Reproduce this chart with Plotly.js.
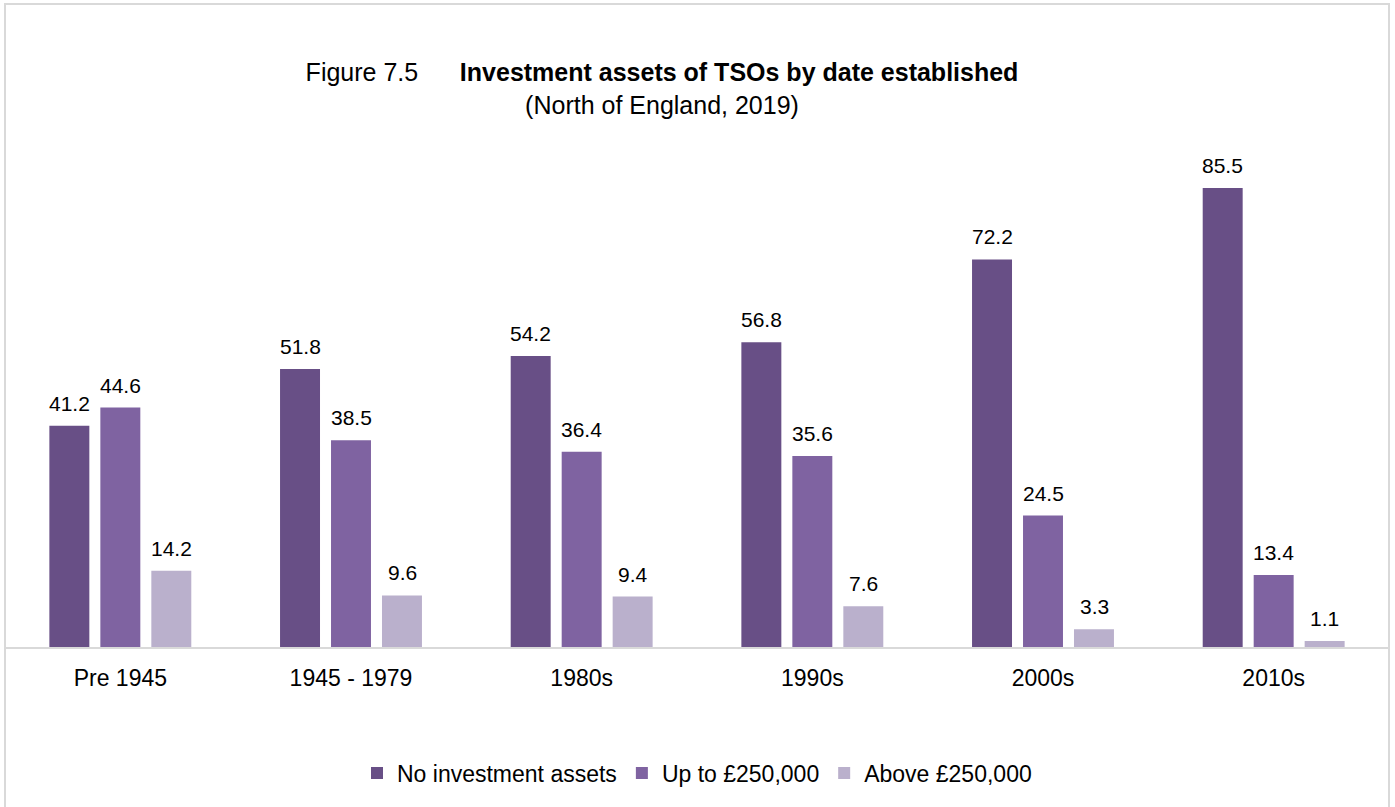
<!DOCTYPE html>
<html>
<head>
<meta charset="utf-8">
<script src="https://cdn.plot.ly/plotly-3.0.1.min.js"></script>
<style>
html,body{margin:0;padding:0;background:#fff;}
#chart{width:1395px;height:807px;}
</style>
</head>
<body>
<div id="chart"></div>
<script>
const categories = ["Pre 1945", "1945 - 1979", "1980s", "1990s", "2000s", "2010s"];
const seriesNames = ["No investment assets", "Up to \u00A3250,000", "Above \u00A3250,000"];
const noInvestment = [41.2, 51.8, 54.2, 56.8, 72.2, 85.5];
const upTo250k = [44.6, 38.5, 36.4, 35.6, 24.5, 13.4];
const above250k = [14.2, 9.6, 9.4, 7.6, 3.3, 1.1];
const seriesValues = [noInvestment, upTo250k, above250k];
const colors = ["#684f86", "#7f63a1", "#bab0cc"];

const FONT = "Liberation Sans, Arial, sans-serif";

const traces = seriesValues.map((vals, j) => ({
  type: "bar",
  name: seriesNames[j],
  x: categories,
  y: vals,
  marker: {color: colors[j]},
  hoverinfo: "x+y+name"
}));

const annotations = [];
seriesValues.forEach((vals, j) => {
  vals.forEach((v, i) => {
    annotations.push({
      x: categories[i], y: v, xref: "x", yref: "y",
      text: v.toFixed(1), showarrow: false,
      xanchor: "center", yanchor: "bottom",
      xshift: (j - 1) * 51, yshift: 9,
      font: {family: FONT, size: 21, color: "#000"}
    });
  });
});

const layout = {
  width: 1395, height: 807,
  margin: {l: 5, r: 6, t: 150, b: 160},
  paper_bgcolor: "#fff", plot_bgcolor: "#fff",
  font: {family: FONT, color: "#000"},
  title: {
    text: "Figure 7.5\u00A0\u00A0\u00A0\u00A0\u00A0\u00A0<b>Investment assets of TSOs by date established</b><br>(North of England, 2019)",
    font: {family: FONT, size: 25, color: "#000"},
    x: 662/1395, xanchor: "center", xref: "container",
    y: 1 - 81/807, yanchor: "top", yref: "container"
  },
  barmode: "group",
  bargap: 0.337,
  bargroupgap: 0.216,
  xaxis: {
    type: "category",
    showline: true, linecolor: "#d9d9d9", linewidth: 2,
    showgrid: false, zeroline: false,
    ticks: "outside", ticklen: 9, tickcolor: "rgba(0,0,0,0)",
    tickfont: {family: FONT, size: 23, color: "#000"},
    fixedrange: true
  },
  yaxis: {
    range: [0, 92.6],
    visible: false, showgrid: false, zeroline: false,
    fixedrange: true
  },
  showlegend: true,
  legend: {
    orientation: "h", x: 0.5, xanchor: "center",
    y: -(773 - 647) / 497, yanchor: "middle",
    font: {family: FONT, size: 23, color: "#000"},
    itemwidth: 30, tracegroupgap: 0
  },
  annotations: annotations,
  shapes: [{
    type: "rect", xref: "paper", yref: "paper",
    x0: 0, x1: 1, y0: -0.5, y1: (647 - 4) / 497,
    line: {color: "#d9d9d9", width: 2}, fillcolor: "rgba(0,0,0,0)",
    layer: "below"
  }]
};

Plotly.newPlot("chart", traces, layout, {displayModeBar: false});
</script>
</body>
</html>
